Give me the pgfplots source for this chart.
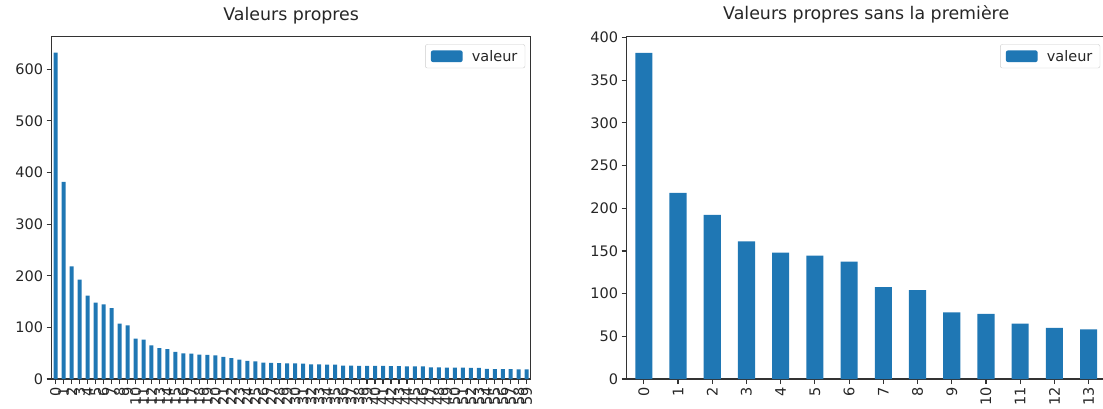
\documentclass[border=0pt]{standalone}
\usepackage{fontspec}
\setmainfont{DejaVu Sans}
\usepackage{pgfplots}
\pgfplotsset{compat=1.18}
\definecolor{barblue}{HTML}{1F77B4}
\definecolor{txt}{HTML}{262626}

% Eigenvalues (left) and the same without the first one (right)
\pgfplotstableread{
idx val
0 632
1 382
2 218
3 192.4
4 161.3
5 148
6 144.5
7 137.5
8 107.5
9 104
10 78
11 76.3
12 65
13 60
14 58
15 52.5
16 49.5
17 49
18 47
19 46.5
20 46
21 43
22 40.5
23 37.5
24 35
25 34
26 31.5
27 31
28 30.8
29 30.5
30 30.2
31 30
32 28.5
33 28.2
34 28
35 27.8
36 26
37 25.8
38 25.6
39 25.5
40 25.3
41 25.2
42 25
43 24.8
44 24.6
45 24.5
46 24.3
47 22.5
48 22.3
49 22.2
50 22
51 21.8
52 21.6
53 21.5
54 19.5
55 19.3
56 19.2
57 19
58 18.8
59 18.6
}\valeurs

\pgfplotstableread{
idx val
0 382
1 218
2 192.4
3 161.3
4 148
5 144.5
6 137.5
7 107.5
8 104
9 78
10 76.3
11 65
12 60
13 58
}\sanspremiere

\pgfplotsset{
  mplbar/.style={
    scale only axis, width=479pt, height=342.3pt,
    axis line style={line width=1.1pt, black!80},
    tick style={line width=1.1pt, black!80},
    tick align=outside, major tick length=5pt,
    xtick pos=left, ytick pos=left,
    ymin=0, enlargelimits=false,
    tick label style={font=\fontsize{14.5}{17}\selectfont, text=txt},
    /pgf/number format/assume math mode=true,
    title style={font=\fontsize{17.4}{20}\selectfont, text=txt, anchor=base, at={(0.5,1)}, yshift=10.7pt},
    legend style={at={(1,1)}, anchor=north east, xshift=-5.5pt, yshift=-7.6pt,
      draw=black!20, rounded corners=2pt, fill=white,
      font=\fontsize{14.5}{17}\selectfont, text=txt,
      inner xsep=5.6pt, inner ysep=3.5pt, column sep=7.2pt},
    legend image code/.code={\fill[barblue] (0pt,-5.8pt) rectangle (31.7pt,5.8pt);},
    xticklabel style={rotate=90, anchor=east},
  }
}

\begin{document}
\begin{tikzpicture}
\begin{axis}[mplbar, at={(51.7pt,-379pt)}, anchor=south west,
  title={Valeurs propres},
  xmin=-0.5, xmax=59.5, ymax=663,
  xtick={0,...,59}, ytick={0,100,...,600}]
\addplot[ybar, bar width=0.5, fill=barblue, draw=none] table[x=idx, y=val] {\valeurs};
\addlegendentry{valeur}
\end{axis}
\begin{axis}[mplbar, at={(626.7pt,-379pt)}, anchor=south west,
  title={Valeurs propres sans la première},
  xmin=-0.5, xmax=13.5, ymax=401,
  xtick={0,...,13}, ytick={0,50,...,400}]
\addplot[ybar, bar width=0.5, fill=barblue, draw=none] table[x=idx, y=val] {\sanspremiere};
\addlegendentry{valeur}
\end{axis}
\pgfresetboundingbox
\useasboundingbox (0,0) rectangle (1103pt,-409pt);
\end{tikzpicture}
\end{document}
